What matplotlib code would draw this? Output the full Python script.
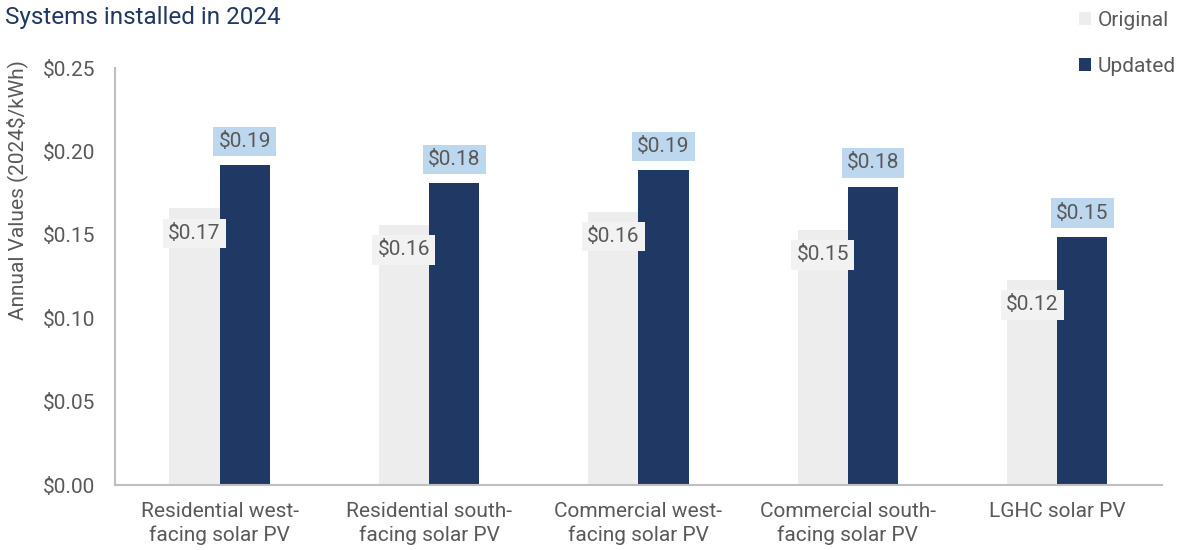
import matplotlib.pyplot as plt
import numpy as np

plt.rcParams['font.family'] = ['Roboto', 'DejaVu Sans']

categories = ['Residential west-\nfacing solar PV', 'Residential south-\nfacing solar PV',
              'Commercial west-\nfacing solar PV', 'Commercial south-\nfacing solar PV',
              'LGHC solar PV']
original = [0.166, 0.156, 0.164, 0.153, 0.123]
updated = [0.192, 0.181, 0.189, 0.179, 0.149]
yticks = [0.00, 0.05, 0.10, 0.15, 0.20, 0.25]

gray_text = '#595959'
navy = '#203864'
light = '#EDEDED'

fig = plt.figure(figsize=(11.79, 5.5), dpi=100)
ax = fig.add_axes([0.0975, 0.118, 0.888, 0.758])

x = np.arange(len(categories))
w = 0.24
b1 = ax.bar(x - w / 2, original, w, color=light, label='Original')
b2 = ax.bar(x + w / 2, updated, w, color=navy, label='Updated')

# data labels
for xi, v in zip(x, original):
    ax.annotate(f'${v:.2f}', (xi - w / 2, v), xytext=(0, -18), textcoords='offset points',
                ha='center', va='center', fontsize=15, color=gray_text,
                bbox=dict(boxstyle='square,pad=0.25', fc='#F2F2F2', ec='none'))
for xi, v in zip(x, updated):
    ax.annotate(f'${v:.2f}', (xi + w / 2, v), xytext=(0, 17), textcoords='offset points',
                ha='center', va='center', fontsize=15, color=gray_text,
                bbox=dict(boxstyle='square,pad=0.25', fc='#BDD7EE', ec='none'))

ax.set_xlim(-0.5, len(categories) - 0.5)
ax.set_ylim(0, 0.25)
ax.set_yticks(yticks)
ax.set_yticklabels([f'${t:.2f}' for t in yticks], fontsize=15, color=gray_text)
ax.set_xticks(x)
ax.set_xticklabels(categories, fontsize=15, color=gray_text, linespacing=1.3)
ax.tick_params(axis='x', length=0, pad=12)
ax.tick_params(axis='y', length=0, pad=14)

for s in ['top', 'right']:
    ax.spines[s].set_visible(False)
for s in ['left', 'bottom']:
    ax.spines[s].set_color('#BFBFBF')
    ax.spines[s].set_linewidth(1.5)

# y label sits above the axis centre in the original
ax.set_ylabel('Annual Values (2024$/kWh)', fontsize=15, color=gray_text, va='center')
ax.yaxis.set_label_coords(-0.093, 0.707)

fig.text(0.004, 0.968, 'Systems installed in 2024', fontsize=17.5, color=navy, va='center', ha='left')

fig.legend(handles=[b1, b2], loc='upper right', bbox_to_anchor=(1.013, 1.015), frameon=False,
           fontsize=15, labelcolor=gray_text, labelspacing=1.3, handlelength=0.6,
           handleheight=0.6, handletextpad=0.3)

fig.savefig('out.png', dpi=100)
